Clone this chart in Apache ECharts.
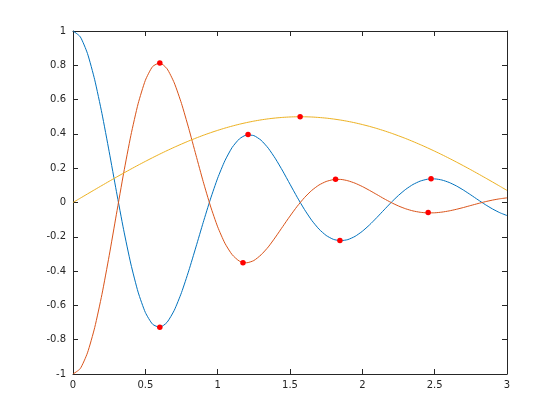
<!DOCTYPE html>
<html>
<head>
<meta charset="utf-8">
<script src="https://cdn.jsdelivr.net/npm/echarts@6/dist/echarts.min.js"></script>
<style>html,body{margin:0;padding:0;background:#fff;}#c{width:560px;height:420px;}</style>
</head>
<body>
<div id="c"></div>
<script>
var xs = [0,0.05,0.1,0.15,0.2,0.25,0.3,0.35,0.4,0.45,0.5,0.55,0.6,0.65,0.7,0.75,0.8,0.85,0.9,0.95,1,1.05,1.1,1.15,1.2,1.25,1.3,1.35,1.4,1.45,1.5,1.55,1.6,1.65,1.7,1.75,1.8,1.85,1.9,1.95,2,2.05,2.1,2.15,2.2,2.25,2.3,2.35,2.4,2.45,2.5,2.55,2.6,2.65,2.7,2.75,2.8,2.85,2.9,2.95,3];
var blueY = [1.000,0.9665,0.8689,0.7156,0.5195,0.2968,0.0649,-0.1588,-0.3587,-0.5224,-0.6409,-0.7096,-0.7279,-0.6988,-0.6285,-0.5252,-0.3985,-0.2590,-0.1165,0.0198,0.1419,0.2436,0.3207,0.3708,0.3935,0.3901,0.3630,0.3164,0.2547,0.1832,0.1066,0.0305,-0.0409,-0.1038,-0.1548,-0.1922,-0.2149,-0.2226,-0.2163,-0.1973,-0.1678,-0.1304,-0.0879,-0.0433,0.0008,0.0415,0.0768,0.1050,0.1248,0.1357,0.1376,0.1311,0.1169,0.0967,0.0718,0.0442,0.0155,-0.0123,-0.0377,-0.0594,-0.0760];
var redY = [-1.0000,-0.9688,-0.8767,-0.7292,-0.5360,-0.3104,-0.0688,0.1709,0.3911,0.5757,0.7121,0.7925,0.8141,0.7799,0.6973,0.5771,0.4323,0.2764,0.1219,-0.0203,-0.1419,-0.2375,-0.3040,-0.3417,-0.3515,-0.3384,-0.3052,-0.2590,-0.2014,-0.1400,-0.0792,-0.0220,0.0285,0.0703,0.1017,0.1225,0.1334,0.1346,0.1268,0.1125,0.0932,0.0705,0.0465,0.0221,-0.0004,-0.0204,-0.0368,-0.0491,-0.0570,-0.0605,-0.0601,-0.0560,-0.0490,-0.0397,-0.0290,-0.0174,-0.0060,0.0047,0.0140,0.0216,0.0271];
var yellowY = [0,0.0250,0.0499,0.0747,0.0993,0.1237,0.1478,0.1714,0.1947,0.2175,0.2397,0.2614,0.2823,0.3026,0.3221,0.3408,0.3587,0.3756,0.3917,0.4067,0.4207,0.4337,0.4456,0.4564,0.4660,0.4745,0.4818,0.4879,0.4927,0.4963,0.4987,0.4999,0.4998,0.4985,0.4958,0.4920,0.4869,0.4806,0.4732,0.4645,0.4546,0.4437,0.4316,0.4184,0.4043,0.3890,0.3729,0.3557,0.3377,0.3189,0.2992,0.2789,0.2578,0.2360,0.2137,0.1909,0.1675,0.1437,0.1196,0.0952,0.0706];
var markX = [0.6,1.21,1.845,2.475,0.6,1.175,1.815,2.455,1.57];
var markY = [-0.728,0.396,-0.222,0.139,0.814,-0.351,0.135,-0.058,0.5];
var xTicks = ['0','0.5','1','1.5','2','2.5','3'];
var yTicks = ['-1','-0.8','-0.6','-0.4','-0.2','0','0.2','0.4','0.6','0.8','1'];

function pairs(a, b) { return a.map(function (v, i) { return [v, b[i]]; }); }

var axisCol = '#262626';
var chart = echarts.init(document.getElementById('c'), null, { renderer: 'canvas' });
var lab = { color: axisCol, fontFamily: 'DejaVu Sans', fontSize: 10 };
chart.setOption({
  animation: false,
  backgroundColor: '#fff',
  grid: { left: 73, right: 53, top: 31, bottom: 46, containLabel: false },
  xAxis: [
    { type: 'value', min: 0, max: 3, interval: 0.5, position: 'bottom',
      axisLine: { show: true, onZero: false, lineStyle: { color: axisCol, width: 1 } },
      axisTick: { show: true, inside: true, length: 5, lineStyle: { color: axisCol } },
      axisLabel: Object.assign({ margin: 6, formatter: function (v) { return xTicks[Math.round(v * 2)]; } }, lab),
      splitLine: { show: false } },
    { type: 'value', min: 0, max: 3, interval: 0.5, position: 'top',
      axisLine: { show: true, onZero: false, lineStyle: { color: axisCol, width: 1 } },
      axisTick: { show: true, inside: true, length: 5, lineStyle: { color: axisCol } },
      axisLabel: { show: false }, splitLine: { show: false } }
  ],
  yAxis: [
    { type: 'value', min: -1, max: 1, interval: 0.2, position: 'left',
      axisLine: { show: true, onZero: false, lineStyle: { color: axisCol, width: 1 } },
      axisTick: { show: true, inside: true, length: 5, lineStyle: { color: axisCol } },
      axisLabel: Object.assign({ margin: 7, formatter: function (v) { return yTicks[Math.round((v + 1) * 5)]; } }, lab),
      splitLine: { show: false } },
    { type: 'value', min: -1, max: 1, interval: 0.2, position: 'right',
      axisLine: { show: true, onZero: false, lineStyle: { color: axisCol, width: 1 } },
      axisTick: { show: true, inside: true, length: 5, lineStyle: { color: axisCol } },
      axisLabel: { show: false }, splitLine: { show: false } }
  ],
  series: [
    { type: 'line', data: pairs(xs, blueY), showSymbol: false, smooth: 0.2,
      lineStyle: { color: '#0072BD', width: 1 }, itemStyle: { color: '#0072BD' } },
    { type: 'line', data: pairs(xs, redY), showSymbol: false, smooth: 0.2,
      lineStyle: { color: '#D95319', width: 1 }, itemStyle: { color: '#D95319' } },
    { type: 'line', data: pairs(xs, yellowY), showSymbol: false, smooth: 0.2,
      lineStyle: { color: '#EDB120', width: 1 }, itemStyle: { color: '#EDB120' } },
    { type: 'scatter', data: pairs(markX, markY), symbol: 'circle', symbolSize: 5.5,
      itemStyle: { color: '#FF0000', opacity: 1 }, z: 5 }
  ]
});
</script>
</body>
</html>
